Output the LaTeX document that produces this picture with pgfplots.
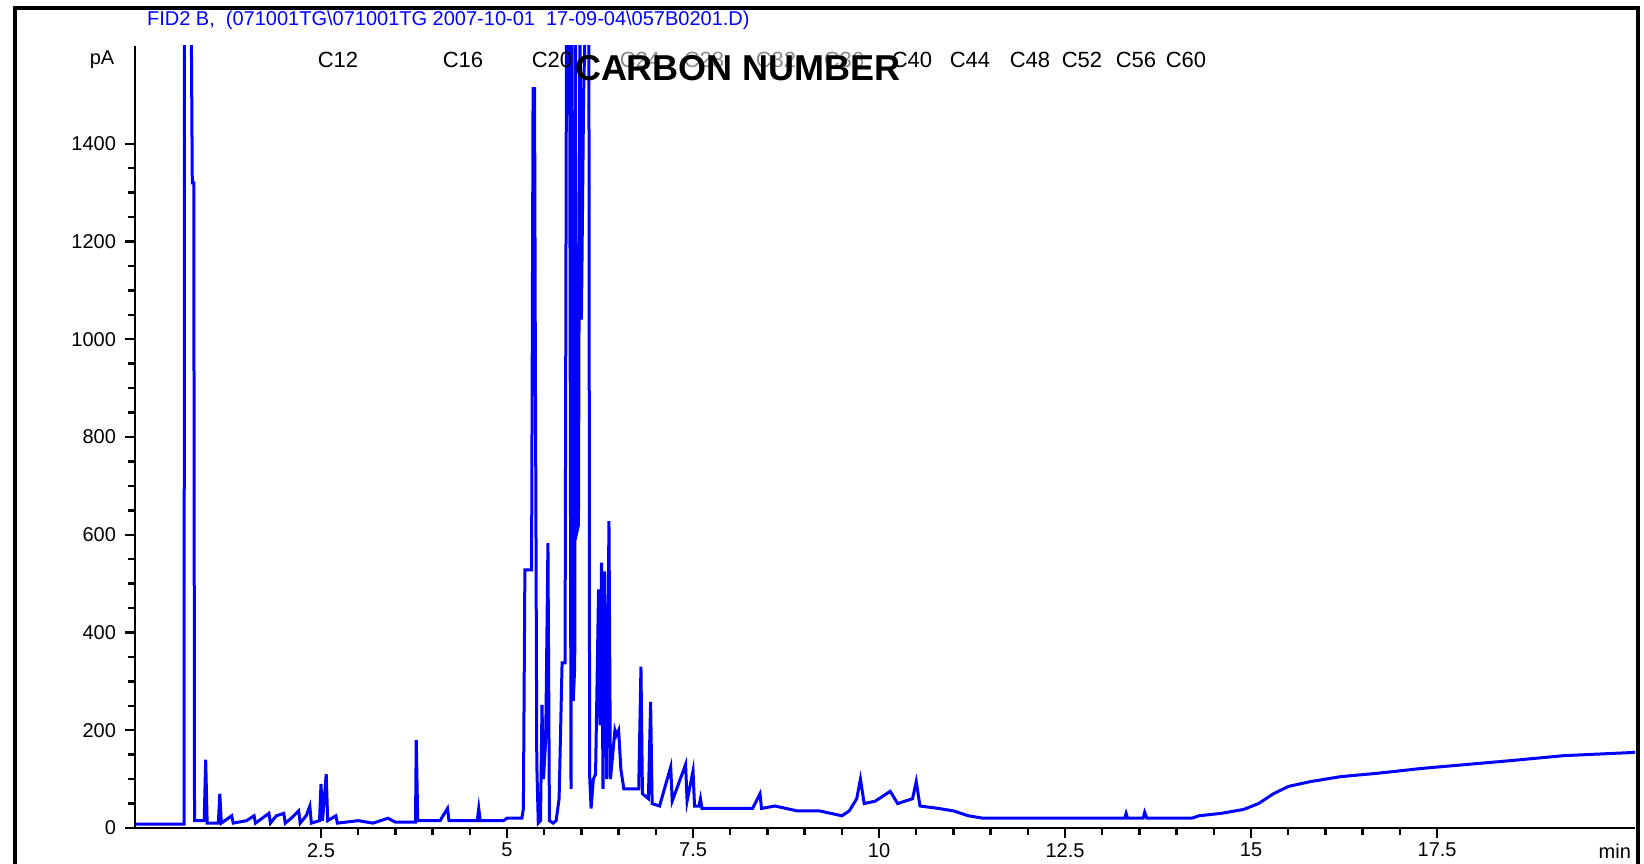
\documentclass[border=0pt]{standalone}
\usepackage{pgfplots}
\pgfplotsset{compat=1.18}
\usepackage{fontspec}
\setmainfont{Liberation Sans}
\definecolor{fidblue}{RGB}{0,0,255}
\begin{document}
\begin{tikzpicture}[x=1pt,y=1pt]
\path[use as bounding box] (0,0) rectangle (822,431.5);
\draw[line width=1.6pt] (7.5,-5) -- (7.5,427.5) -- (819,427.5) -- (819,-5);
\begin{axis}[
  at={(67.5pt,17.5pt)}, anchor=south west,
  scale only axis, width=750pt, height=391pt,
  xmin=0, xmax=20.16, ymin=0, ymax=1600,
  axis lines*=left, axis line style={line width=1.4pt},
  xtick={2.5,5,7.5,10,12.5,15,17.5},
  xticklabels={2.5,5,7.5,10,12.5,15,17.5},
  minor x tick num=4,
  ytick={0,200,400,600,800,1000,1200,1400},
  yticklabels={0,200,400,600,800,1000,1200,1400},
  minor y tick num=3,
  tick align=outside,
  major tick length=5pt, minor tick length=3.5pt,
  tick style={line width=1.2pt, black},
  ticklabel style={font=\fontsize{10}{10}\selectfont},
  /pgf/number format/assume math mode=true,
  yticklabel style={xshift=-1pt},
  xticklabel style={yshift=1pt},
  clip=true,
]
\addplot[fidblue, line width=1.5pt] coordinates {
(0,8) (0.66,8) (0.665,1800) (0.75,1800) (0.77,1320) (0.79,1320) (0.80,15) (0.93,15) (0.95,140) (0.97,10) (1.12,10) (1.14,70) (1.16,10) (1.3,25) (1.32,10) (1.5,15) (1.6,25) (1.62,10) (1.8,30) (1.82,10) (1.9,25) (2.0,30) (2.02,10) (2.1,20) (2.2,35) (2.22,10) (2.3,25) (2.35,45) (2.37,10) (2.48,15) (2.5,90) (2.52,15) (2.57,110) (2.59,15) (2.7,25) (2.72,10) (3.0,15) (3.2,10) (3.4,20) (3.5,12) (3.77,12) (3.78,180) (3.80,15) (4.1,15) (4.2,40) (4.22,15) (4.6,15) (4.62,40) (4.64,15) (4.95,15) (5.0,20) (5.20,20) (5.22,40) (5.24,528) (5.33,528) (5.35,1513) (5.37,1513) (5.38,1000) (5.40,133) (5.42,10) (5.45,15) (5.47,252) (5.49,100) (5.52,180) (5.55,583) (5.57,15) (5.62,10) (5.66,15) (5.70,60) (5.74,338) (5.78,338) (5.80,1700) (5.84,1700) (5.86,80) (5.87,1700) (5.89,260) (5.91,330) (5.92,1700) (5.93,600) (5.96,620) (5.98,1700) (6.0,1040) (6.03,1507) (6.06,1700) (6.10,1700) (6.11,108) (6.13,40) (6.16,100) (6.19,110) (6.21,297) (6.23,488) (6.24,300) (6.25,210) (6.27,543) (6.29,80) (6.31,525) (6.34,100) (6.37,628) (6.39,100) (6.42,150) (6.45,200) (6.47,190) (6.50,200) (6.53,120) (6.57,80) (6.62,80) (6.77,80) (6.80,330) (6.82,70) (6.90,60) (6.93,258) (6.95,50) (7.05,45) (7.20,125) (7.22,55) (7.40,130) (7.42,55) (7.50,117) (7.52,45) (7.58,45) (7.60,60) (7.62,40) (8.3,40) (8.4,70) (8.42,40) (8.6,45) (8.9,35) (9.2,35) (9.5,25) (9.6,35) (9.7,60) (9.75,100) (9.8,50) (9.95,55) (10.05,65) (10.15,75) (10.25,50) (10.45,60) (10.5,95) (10.55,45) (10.8,40) (11.0,35) (11.2,25) (11.4,20) (13.3,20) (13.32,30) (13.34,20) (13.55,20) (13.57,32) (13.6,20) (14.2,20) (14.3,25) (14.6,30) (14.9,38) (15.1,50) (15.3,70) (15.5,85) (15.8,95) (16.2,105) (16.7,112) (17.3,122) (17.9,130) (18.5,138) (19.2,148) (20.2,155)
};
\end{axis}
\node[anchor=west, text=fidblue, font=\fontsize{10}{10}\selectfont] at (70,421.5) {FID2 B,\ \ (071001TG\textbackslash071001TG 2007-10-01\ \ 17-09-04\textbackslash057B0201.D)};
\node[font=\fontsize{10}{10}\selectfont] at (51,401.5) {pA};
\node[font=\fontsize{10}{10}\selectfont, anchor=east] at (819,6) {min};
\begin{scope}[every node/.style={font=\fontsize{11}{11}\selectfont}]
\node at (169,401.5) {C12};
\node at (231.5,401.5) {C16};
\node at (276,401.5) {C20};
\node[text=black!45] at (320,401.5) {C24};
\node[text=black!45] at (352,401.5) {C28};
\node[text=black!45] at (388,401.5) {C32};
\node[text=black!45] at (422,401.5) {C36};
\node at (456,401.5) {C40};
\node at (485,401.5) {C44};
\node at (515,401.5) {C48};
\node at (541,401.5) {C52};
\node at (568,401.5) {C56};
\node at (593,401.5) {C60};
\end{scope}
\node[font=\bfseries\fontsize{18}{18}\selectfont] at (369,397.5) {CARBON NUMBER};
\end{tikzpicture}
\end{document}
